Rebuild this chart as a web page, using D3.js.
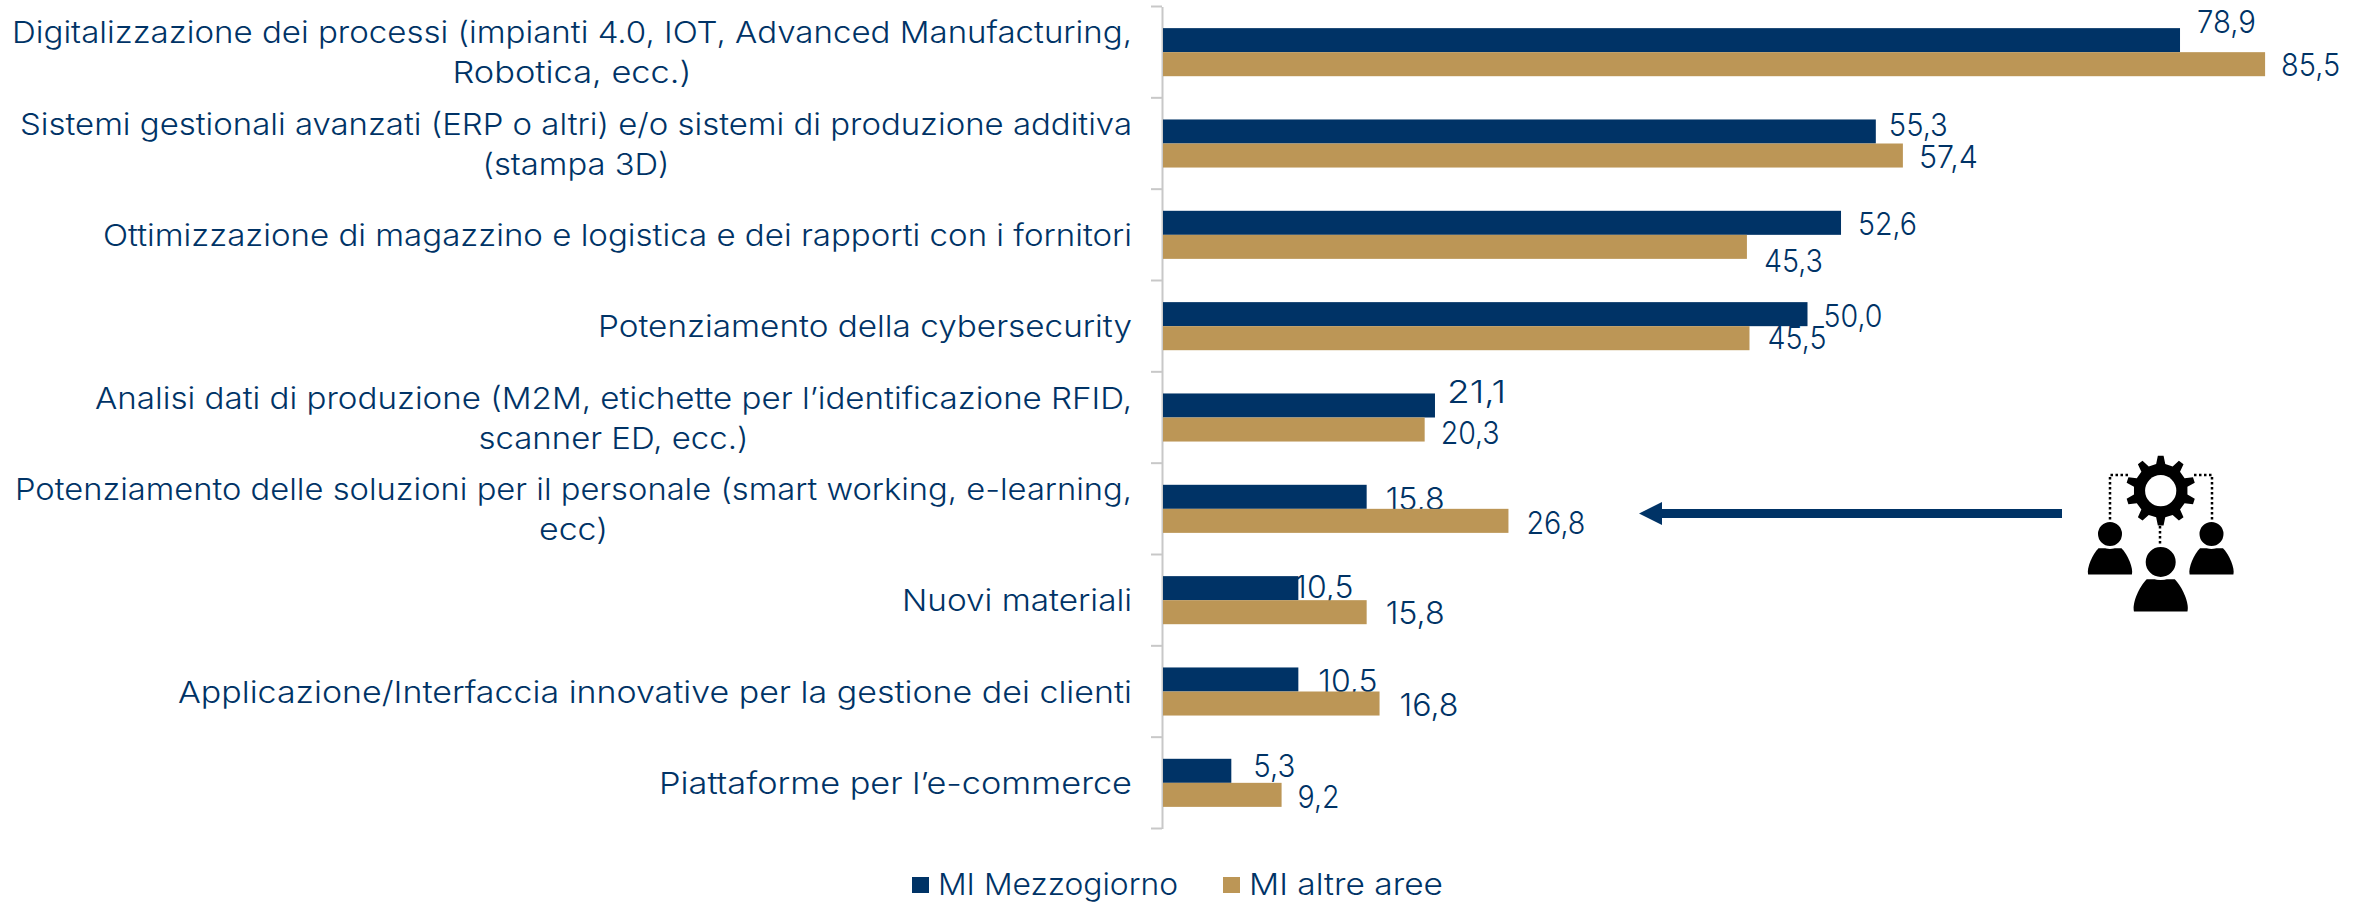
<!DOCTYPE html>
<html>
<head>
<meta charset="utf-8">
<script src="https://cdn.jsdelivr.net/npm/d3@7"></script>
<style>
  body { margin: 0; background: #fff; }
  text { font-family: "Inter", "Lato", sans-serif; font-weight: 300; fill: #003366; }
</style>
</head>
<body>
<div id="chart"></div>
<script>
// data
var categories = [
    "Digitalizzazione dei processi (impianti 4.0, IOT, Advanced Manufacturing,\nRobotica, ecc.)",
    "Sistemi gestionali avanzati (ERP o altri) e/o sistemi di produzione additiva\n(stampa 3D)",
    "Ottimizzazione di magazzino e logistica e dei rapporti con i fornitori",
    "Potenziamento della cybersecurity",
    "Analisi dati di produzione (M2M, etichette per l\u2019identificazione RFID,\nscanner ED, ecc.)",
    "Potenziamento delle soluzioni per il personale (smart working, e-learning,\necc)",
    "Nuovi materiali",
    "Applicazione/Interfaccia innovative per la gestione dei clienti",
    "Piattaforme per l\u2019e-commerce"
];
var seriesNames = ["MI Mezzogiorno", "MI altre aree"];
var mezzogiorno = [78.9, 55.3, 52.6, 50.0, 21.1, 15.8, 10.5, 10.5, 5.3];
var altreAree = [85.5, 57.4, 45.3, 45.5, 20.3, 26.8, 15.8, 16.8, 9.2];

// hand placed data labels, as in the original
var nudgeMezzogiorno = [[17,-18],[13,-6],[17,1],[16,2],[12,-13],[19,2],[-4,-1],[20,2],[22,-5]];
var nudgeAltre = [[16,1],[16,1],[17,14],[18,0],[16,3],[18,2],[19,1],[20,1],[16,2]];

// width of each label line in the original font
var lineWidths = [[1120, 239], [1112, 187], [1029], [534], [1037, 270], [1117, 69], [230], [954], [473]];

var colors = ["#003366", "#BC9656"];
var width = 2369, height = 902;

var svg = d3.select("#chart").append("svg")
    .attr("width", width)
    .attr("height", height);

var x = d3.scaleLinear().domain([0, 100]).range([1163, 2452]);
var y = d3.scaleBand().domain(categories).range([6.5, 828.5]);
var y1 = d3.scaleBand().domain(seriesNames).range([0, y.bandwidth()]).paddingOuter(0.9);

// axis, ticks sit between the categories
var axisX = x(0) - 1;
var yAxis = d3.axisLeft(y).tickSize(0).tickFormat("");
var axisG = svg.append("g")
    .attr("class", "axis")
    .attr("transform", "translate(" + axisX + ",0)")
    .call(yAxis);
axisG.select(".domain").attr("stroke", "#c8c8c8").attr("stroke-width", 2);

svg.append("g").selectAll("line")
    .data(d3.range(categories.length + 1))
    .enter().append("line")
    .attr("x1", axisX - 11)
    .attr("x2", axisX)
    .attr("y1", function(d) { return y.range()[0] + d * y.step(); })
    .attr("y2", function(d) { return y.range()[0] + d * y.step(); })
    .attr("stroke", "#c8c8c8")
    .attr("stroke-width", 2);

// category labels: centred block, right edge at 1132
var catFont = 30;
var lineGap = 40;
var catG = svg.append("g").selectAll("g")
    .data(categories)
    .enter().append("g");

catG.each(function(d, c) {
    var lines = d.split("\n");
    d3.select(this).selectAll("text")
        .data(lines)
        .enter().append("text")
        .attr("font-size", catFont)
        .attr("text-anchor", "middle")
        .attr("x", 1132 - lineWidths[c][0] / 2)
        .attr("y", function(l, i) {
            return y(d) + y.bandwidth() / 2 + (i - (lines.length - 1) / 2) * lineGap + 11;
        })
        .attr("textLength", function(l, i) { return lineWidths[c][i]; })
        .attr("lengthAdjust", "spacingAndGlyphs")
        .text(function(l) { return l; });
});

// data labels go under the bars, the bars clip them in the original
var seriesData = [mezzogiorno, altreAree];
var nudges = [nudgeMezzogiorno, nudgeAltre];

seriesData.forEach(function(values, s) {
    svg.append("g").selectAll("text")
        .data(values)
        .enter().append("text")
        .attr("font-size", 31)
        .attr("x", function(d, i) { return x(d) + nudges[s][i][0]; })
        .attr("y", function(d, i) {
            return y(categories[i]) + y1(seriesNames[s]) + y1.bandwidth() / 2 + nudges[s][i][1] + 11;
        })
        .attr("textLength", function(d) { return d < 10 ? 42 : 59; })
        .attr("lengthAdjust", "spacingAndGlyphs")
        .text(function(d) { return d.toFixed(1).replace(".", ","); });
});

seriesData.forEach(function(values, s) {
    svg.append("g").selectAll("rect")
        .data(values)
        .enter().append("rect")
        .attr("x", x(0))
        .attr("y", function(d, i) { return y(categories[i]) + y1(seriesNames[s]); })
        .attr("width", function(d) { return x(d) - x(0); })
        .attr("height", y1.bandwidth())
        .attr("fill", colors[s]);
});

// legend
var legendX = [912, 1223];
var legendW = [240, 194];
var legend = svg.append("g").selectAll("g")
    .data(seriesNames)
    .enter().append("g")
    .attr("transform", function(d, i) { return "translate(" + legendX[i] + ",877)"; });
legend.append("rect")
    .attr("width", 17)
    .attr("height", 16)
    .attr("fill", function(d, i) { return colors[i]; });
legend.append("text")
    .attr("x", 26)
    .attr("y", 18)
    .attr("font-size", 30)
    .attr("textLength", function(d, i) { return legendW[i]; })
    .attr("lengthAdjust", "spacingAndGlyphs")
    .text(function(d) { return d; });

// arrow
svg.append("path")
    .attr("d", "M2062,509H1662V502L1639,513.5L1662,525V518H2062Z")
    .attr("fill", "#003366");

// icon: gear and three people
var icon = svg.append("g");

function gearPath(cx, cy, rOut, rIn, teeth) {
    var pts = [];
    d3.range(teeth).forEach(function(i) {
        var a = i * 2 * Math.PI / teeth - Math.PI / 2;
        var step = 2 * Math.PI / teeth;
        [[-0.27, rIn], [-0.13, rOut], [0.13, rOut], [0.27, rIn]].forEach(function(p) {
            var t = a + p[0] * step;
            pts.push([cx + p[1] * Math.cos(t), cy + p[1] * Math.sin(t)]);
        });
    });
    return d3.line()(pts) + "Z";
}

icon.append("path").attr("d", gearPath(2160.7, 490.7, 35, 27, 10)).attr("fill", "#000");
icon.append("circle").attr("cx", 2160.7).attr("cy", 490.7).attr("r", 15.6).attr("fill", "#fff");

function person(cx, cy, r) {
    icon.append("path")
        .attr("d", "M" + (cx - 1.62 * r) + "," + (cy + 3 * r)
            + "C" + (cx - 1.75 * r) + "," + (cy + 2.5 * r) + " " + (cx - 1.3 * r) + "," + (cy + 1.5 * r) + " " + (cx - 0.85 * r) + "," + (cy + 1.05 * r)
            + "L" + (cx + 0.85 * r) + "," + (cy + 1.05 * r)
            + "C" + (cx + 1.3 * r) + "," + (cy + 1.5 * r) + " " + (cx + 1.75 * r) + "," + (cy + 2.5 * r) + " " + (cx + 1.62 * r) + "," + (cy + 3 * r)
            + "Z")
        .attr("fill", "#000");
    icon.append("circle")
        .attr("cx", cx).attr("cy", cy).attr("r", r)
        .attr("fill", "#000").attr("stroke", "#fff").attr("stroke-width", 3);
}

person(2110, 534, 13.5);
person(2211.5, 534, 13.5);
person(2160.7, 562, 16.5);

icon.selectAll(".dots")
    .data(["M2128,475H2110V520", "M2194,475H2212V520", "M2160,526V546"])
    .enter().append("path")
    .attr("class", "dots")
    .attr("d", function(d) { return d; })
    .attr("fill", "none")
    .attr("stroke", "#000")
    .attr("stroke-width", 2.5)
    .attr("stroke-dasharray", "2.5,2.5");
</script>
</body>
</html>
